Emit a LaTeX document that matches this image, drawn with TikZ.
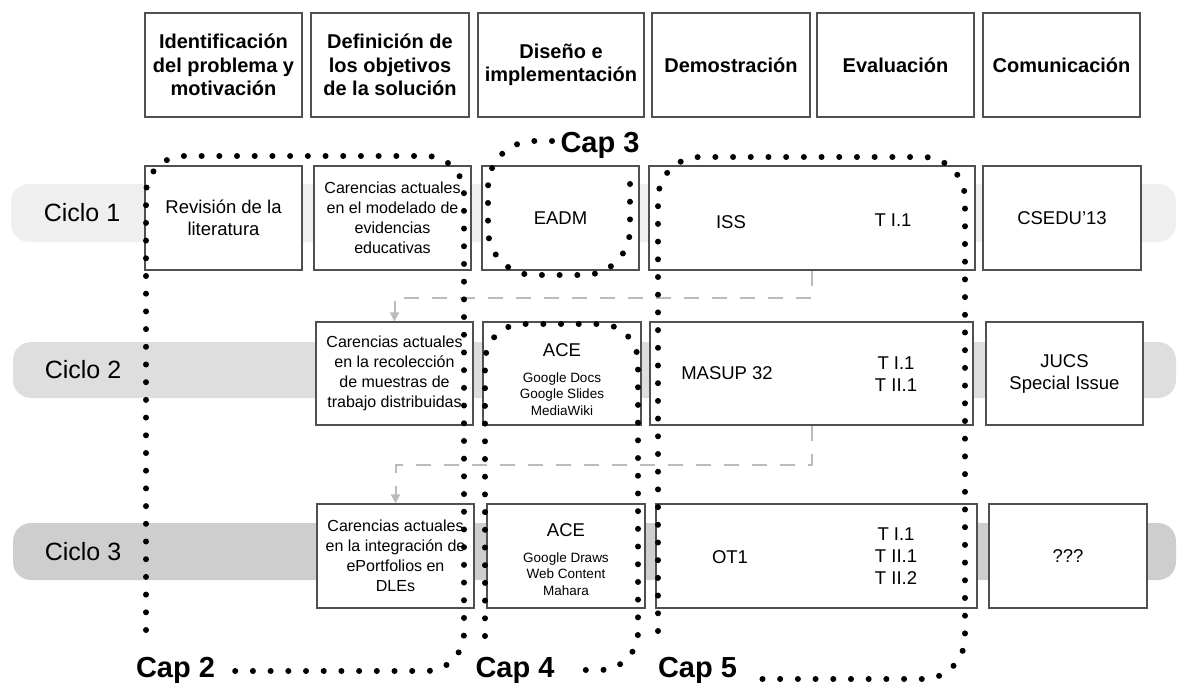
\documentclass[tikz,border=0pt]{standalone}
\usepackage{fontspec}
\setmainfont{Liberation Sans}
\usetikzlibrary{arrows.meta}
\definecolor{boxline}{HTML}{505050}
\definecolor{bandA}{HTML}{EFEFEF}
\definecolor{bandB}{HTML}{DEDEDE}
\definecolor{bandC}{HTML}{CECECE}
\definecolor{connc}{HTML}{BBBBBB}
\tikzset{
  box/.style={draw=boxline, line width=1.3pt, fill=white, minimum height=104pt, inner sep=0pt, align=center},
  hdr/.style={box, font=\fontsize{20}{23.5}\selectfont\bfseries},
  body/.style={box, font=\fontsize{18.5}{22}\selectfont},
  smallbox/.style={box, font=\fontsize{16}{20}\selectfont},
  lbl/.style={inner sep=0pt, align=center, font=\fontsize{18.5}{22}\selectfont},
  tool/.style={inner sep=0pt, align=center, font=\fontsize{13.5}{16.7}\selectfont},
  ciclo/.style={inner sep=0pt, font=\fontsize{25}{30}\selectfont},
  chaplabel/.style={inner sep=0pt, anchor=base, font=\fontsize{29}{34}\selectfont\bfseries},
  dots/.style={line width=6pt, line cap=round, dash pattern=on 0pt off 17.7pt},
  conn/.style={draw=connc, line width=2pt, dash pattern=on 15pt off 13pt, -{Triangle[width=9pt,length=9pt,fill=connc]}},
}
\begin{document}
\begin{tikzpicture}[x=1pt,y=-1pt]
\useasboundingbox (0,0) rectangle (1177,684);

% bands
\fill[bandA, rounded corners=18pt] (11,184) rectangle (1176,242);
\fill[bandB, rounded corners=18pt] (13,342) rectangle (1176,398);
\fill[bandC, rounded corners=18pt] (13,523) rectangle (1176,580);
\node[ciclo] (c1) at (82,213) {Ciclo 1};
\node[ciclo] (c2) at (83,370) {Ciclo 2};
\node[ciclo] (c3) at (83,552) {Ciclo 3};

% headers
\node[hdr, minimum width=157pt] (h1) at (223.5,65) {Identificación\\del problema y\\motivación};
\node[hdr, minimum width=158pt] (h2) at (390,65) {Definición de\\los objetivos\\de la solución};
\node[hdr, minimum width=166pt] (h3) at (561,65) {Diseño e\\implementación};
\node[hdr, minimum width=158pt] (h4) at (731,65) {Demostración};
\node[hdr, minimum width=157pt] (h5) at (895.5,65) {Evaluación};
\node[hdr, minimum width=157pt] (h6) at (1061.5,65) {Comunicación};

% row 1
\node[body, minimum width=157pt] (rev) at (223.5,218) {Revisión de la\\literatura};
\node[smallbox, minimum width=157pt] (car1) at (392.5,218) {Carencias actuales\\en el modelado de\\evidencias\\educativas};
\node[body, minimum width=157pt] (eadm) at (560.5,218) {EADM};
\node[box, minimum width=326pt] (iss) at (812,218) {};
\node[lbl] (issl) at (731,222) {ISS};
\node[lbl] (issr) at (893,220) {T I.1};
\node[body, minimum width=158pt] (csedu) at (1062,218) {CSEDU’13};

% row 2
\node[smallbox, minimum width=157pt, minimum height=103pt] (car2) at (394.5,373.5) {Carencias actuales\\en la recolección\\de muestras de\\trabajo distribuidas};
\node[box, minimum width=158pt, minimum height=103pt] (ace2) at (562,373.5) {};
\node[lbl] (ace2t) at (562,350) {ACE};
\node[tool] (ace2l) at (562,394) {Google Docs\\Google Slides\\MediaWiki};
\node[box, minimum width=323pt, minimum height=103pt] (masup) at (811.5,373.5) {};
\node[lbl] (masupl) at (727,373) {MASUP 32};
\node[lbl] (masupr) at (896,374) {T I.1\\T II.1};
\node[body, minimum width=157pt, minimum height=103pt] (jucs) at (1064.5,373.5) {JUCS\\Special Issue};

% row 3
\node[smallbox, minimum width=157pt] (car3) at (395.5,556) {Carencias actuales\\en la integración de\\ePortfolios en\\DLEs};
\node[box, minimum width=158pt] (ace3) at (566,556) {};
\node[lbl] (ace3t) at (566,530) {ACE};
\node[tool] (ace3l) at (566,574) {Google Draws\\Web Content\\Mahara};
\node[box, minimum width=321pt] (ot1) at (816.5,556) {};
\node[lbl] (ot1l) at (730,557) {OT1};
\node[lbl] (ot1r) at (896,556) {T I.1\\T II.1\\T II.2};
\node[body, minimum width=158pt] (qqq) at (1068,556) {???};

% connectors
\draw[conn] (iss.south) -- ++(0,27) -| (car2.north);
\draw[conn] (masup.south) -- ++(0,39) -| (car3.north);

% chapter labels
\node[chaplabel] (cap2) at (175.5,677) {Cap 2};
\node[chaplabel] (cap3) at (600,153) {Cap 3};
\node[chaplabel] (cap4) at (515,677) {Cap 4};
\node[chaplabel] (cap5) at (697.5,677) {Cap 5};

% dotted chapter outlines
\draw[dots, rounded corners=38pt] (146,630) -- (146,156) -- (464,156) -- (464,671) -- (235,671);
\draw[dots, rounded corners=46pt] (552,141) -- (488,141) -- (488,275) -- (630,275) -- (630,172);
\draw[dots, rounded corners=38pt] (485,636) -- (485,324) -- (638,324) -- (638,670) -- (575,670);
\draw[dots, rounded corners=42pt] (658,631) -- (658,157) -- (965,157) -- (965,679) -- (756,679);
\end{tikzpicture}
\end{document}
